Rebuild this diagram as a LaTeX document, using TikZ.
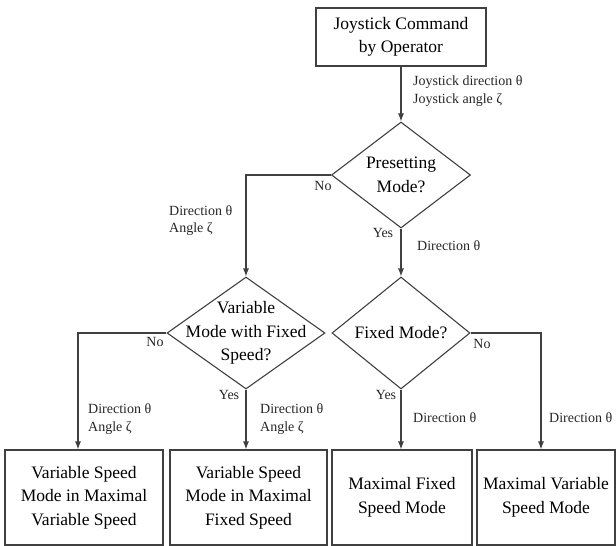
\documentclass[tikz,border=0pt]{standalone}
\usepackage{fontspec}
\setmainfont{Liberation Serif}
\usetikzlibrary{shapes.geometric,arrows.meta}

\begin{document}
\begin{tikzpicture}[x=1pt,y=-1pt,
  box/.style={draw=black!75,line width=1.1pt,minimum width=#1,minimum height=95pt,
    inner sep=0pt,align=center,font=\fontsize{17.5}{23.5}\selectfont},
  box/.default=140pt,
  decision/.style n args={3}{diamond,draw=black!75,line width=1.1pt,inner sep=0pt,
    minimum width=#1,minimum height=#2,
    label={[align=center,font=\fontsize{17.5}{23.5}\selectfont]center:#3}},
  lbl/.style={font=\fontsize{14}{17.5}\selectfont,align=left,inner sep=0pt,text=black!85},
  conn/.style={draw=black!75,line width=1.1pt,-{Latex[length=8pt,width=6pt]}}]
  \useasboundingbox (0,0) rectangle (616,546);
  % boxes and decisions
  \node[box=170pt,minimum height=58pt] (cmd) at (401,37) {Joystick Command\\by Operator};
  \node[decision={139pt}{106pt}{Presetting\\Mode?}] (pre) at (401,175) {};
  \node[decision={158pt}{112pt}{Variable\\Mode with Fixed\\Speed?}] (var) at (246,333) {};
  \node[decision={138pt}{112pt}{Fixed Mode?}] (fix) at (401,333) {};
  \node[box=158pt] (vmv) at (84,497.5) {Variable Speed\\Mode in Maximal\\Variable Speed};
  \node[box=157pt] (vmf) at (248.5,497.5) {Variable Speed\\Mode in Maximal\\Fixed Speed};
  \node[box=140pt] (mfs) at (402,497.5) {Maximal Fixed\\Speed Mode};
  \node[box=138pt] (mvs) at (546,497.5) {Maximal Variable\\Speed Mode};
  % connectors
  \draw[conn] (cmd) -- (pre);
  \draw[conn] (pre.west) -| (var.north);
  \draw[conn] (pre.south) -- (fix.north);
  \draw[conn] (var.west) -| ([xshift=-6pt]vmv.north);
  \draw[conn] (var.south) -- (var.south |- vmf.north);
  \draw[conn] (fix.south) -- (fix.south |- mfs.north);
  \draw[conn] (fix.east) -| ([xshift=-5pt]mvs.north);
  % labels
  \node[lbl,anchor=west] (l-cmd) at (413,91) {Joystick direction θ\\Joystick angle ζ};
  \node[lbl] (l-preno) at (323,186) {No};
  \node[lbl,anchor=west] (l-predir) at (169,220.5) {Direction θ\\Angle ζ};
  \node[lbl] (l-preyes) at (383,233) {Yes};
  \node[lbl,anchor=west] (l-fixdir) at (417,246) {Direction θ};
  \node[lbl] (l-varno) at (155,342) {No};
  \node[lbl,anchor=west] (l-vmv) at (88,419) {Direction θ\\Angle ζ};
  \node[lbl] (l-varyes) at (229,395) {Yes};
  \node[lbl,anchor=west] (l-vmf) at (260,419) {Direction θ\\Angle ζ};
  \node[lbl] (l-fixyes) at (386,395) {Yes};
  \node[lbl,anchor=west] (l-mfs) at (413,418) {Direction θ};
  \node[lbl] (l-fixno) at (482,344) {No};
  \node[lbl,anchor=west] (l-mvs) at (549,418) {Direction θ};
\end{tikzpicture}
\end{document}
